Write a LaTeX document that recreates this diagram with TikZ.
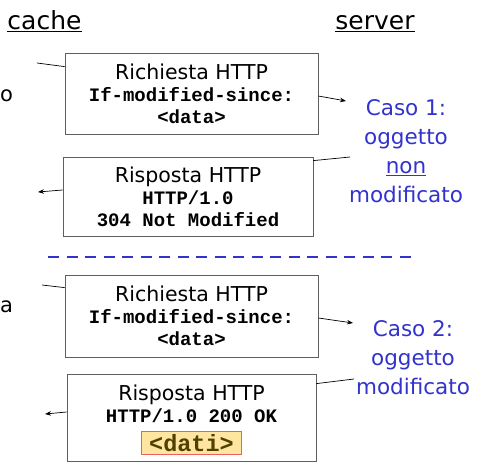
\documentclass[tikz,border=0pt]{standalone}
\usepackage{fontspec}
\setmainfont{DejaVu Sans}
\setmonofont{Liberation Mono}
\usetikzlibrary{arrows.meta}
\usetikzlibrary{positioning}

\definecolor{casoblue}{RGB}{50,50,205}
\definecolor{boxgray}{RGB}{95,95,95}
\definecolor{datifill}{RGB}{255,229,160}
\definecolor{datiedge}{RGB}{240,95,95}
\definecolor{datitext}{RGB}{80,65,0}

\tikzset{
 msg/.style={draw=boxgray, line width=.8pt, align=center, inner sep=0pt,
   font=\fontsize{19}{22}\selectfont},
 side/.style={font=\fontsize{25}{28}\selectfont, inner sep=0pt},
 caso/.style={text=casoblue, align=center, inner sep=0pt,
   font=\fontsize{21.5}{29}\selectfont},
 wire/.style={black, line width=.7pt},
 go/.style={wire, -{Stealth[length=6pt,width=4.5pt]}}
}
\newcommand{\hd}[1]{{\fontsize{20.5}{22}\selectfont #1}}
\newcommand{\tl}[1]{{\ttfamily\bfseries #1}}

\begin{document}
\begin{tikzpicture}[x=1pt,y=-1pt]
\useasboundingbox (0,0) rectangle (482,471);

% headings
\node[side, anchor=base] (cache) at (44.5,29) {\underline{cache}};
\node[side, anchor=base] (server) at (375,29) {\underline{server}};
\node[side, anchor=base west, font=\fontsize{21}{24}\selectfont] (cut1) at (0,101) {o};
\node[side, anchor=base west, font=\fontsize{21}{24}\selectfont] (cut2) at (0,312) {a};

% caso 1
\node[msg, minimum width=253, minimum height=81] (req1) at (191.5,93.5)
 {\hd{Richiesta HTTP}\\ \tl{If-modified-since:}\\ \tl{<data>}};
\node[msg, minimum width=250, minimum height=79] (resp1) at (188,196.5)
 {\hd{Risposta HTTP}\\ \tl{HTTP/1.0}\\ \tl{304 Not Modified}};
\node[caso] (caso1) at (406,151) {Caso 1:\\ oggetto\\ \underline{non}\\ modificato};

\coordinate (in1) at (37,63);
\coordinate (out1) at (346,101);
\coordinate (in2) at (350,157);
\coordinate (out2) at (38,192);
\draw[wire] (in1) -- ([yshift=-14]req1.north west);
\draw[go] ([yshift=-2.5]req1.east) -- (out1);
\draw[wire] (in2) -- ([yshift=-4]resp1.north east);
\draw[go] ([yshift=6.5]resp1.west) -- (out2);

% separatore
\draw[casoblue, line width=1.6pt, dash pattern=on 11pt off 7.5pt] (48,257) -- (418,257);

% caso 2
\node[msg, minimum width=253, minimum height=82] (req2) at (191.5,316)
 {\hd{Richiesta HTTP}\\ \tl{If-modified-since:}\\ \tl{<data>}};
\node[msg, minimum width=249, minimum height=87, text depth=0pt] (resp2) at (191.5,417.5) {};
\node[anchor=base, inner sep=0pt, font=\fontsize{20.5}{22}\selectfont] (resp2a)
 at ([yshift=17]resp2.center) {Risposta HTTP};
\node[anchor=base, inner sep=0pt, font=\fontsize{19}{22}\ttfamily\bfseries] (resp2b)
 at ([yshift=-4.5]resp2.center) {HTTP/1.0 200 OK};
\node[draw=datiedge, fill=datifill, line width=.8pt, minimum width=100, minimum height=23,
 inner sep=0pt, text=datitext, font=\fontsize{23.5}{24}\ttfamily\bfseries] (dati)
 at ([yshift=18.5]resp2.south) {<dati>};
\node[caso] (caso2) at (413,358) {Caso 2:\\ oggetto\\ modificato};

\coordinate (in3) at (42,285);
\coordinate (out3) at (353,323);
\coordinate (in4) at (354,379);
\coordinate (out4) at (45,414);
\draw[wire] (in3) -- ([yshift=-13]req2.north west);
\draw[go] ([yshift=-2]req2.east) -- (out3);
\draw[wire] (in4) -- ([yshift=-10]resp2.north east);
\draw[go] ([yshift=5.5]resp2.west) -- (out4);
\end{tikzpicture}
\end{document}
